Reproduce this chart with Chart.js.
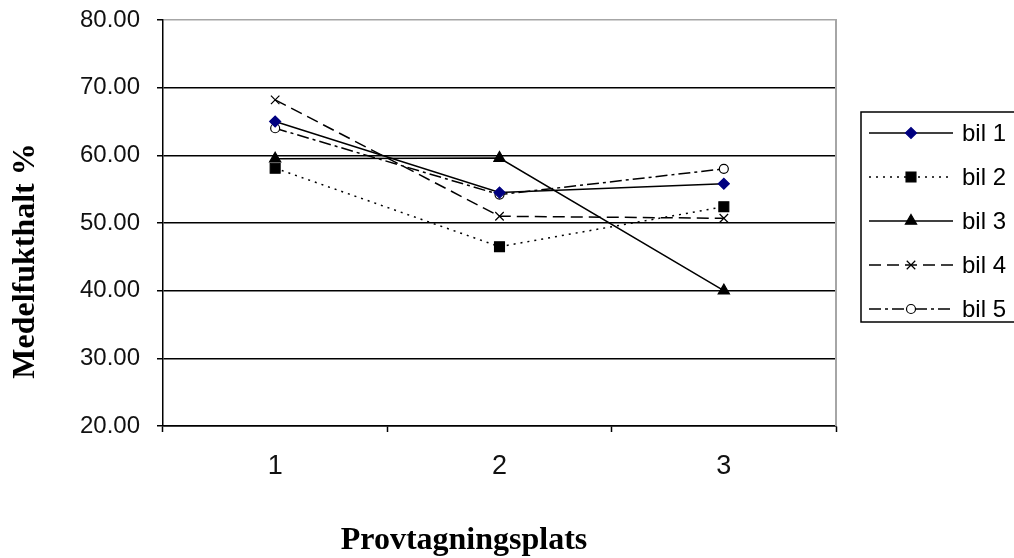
<!DOCTYPE html>
<html>
<head>
<meta charset="utf-8">
<title>Medelfukthalt per provtagningsplats</title>
<script src="https://cdn.jsdelivr.net/npm/chart.js@4/dist/chart.umd.min.js"></script>
<style>
  html, body { margin: 0; padding: 0; background: #fff; }
  #wrap { width: 1014px; height: 558px; position: relative; }
</style>
</head>
<body>
<div id="wrap"><canvas id="c" width="1014" height="558"></canvas></div>
<script>
// Sampling sites (x categories)
const platser = ['1', '2', '3'];

// Mean moisture content (%) per car
const bil1 = [65.0, 54.5, 55.8];
const bil2 = [58.1, 46.5, 52.4];
const bil3 = [59.5, 59.6, 40.0];
const bil4 = [68.2, 51.0, 50.7];
const bil5 = [64.0, 54.2, 58.0];

const seriesNames = ['bil 1', 'bil 2', 'bil 3', 'bil 4', 'bil 5'];

// y axis range / tick step
const yMin = 20, yMax = 80, yStep = 10;

const axisTitleX = 'Provtagningsplats';
const axisTitleY = 'Medelfukthalt %';

const SANS = '"Liberation Sans", Arial, sans-serif';
const SERIF = '"Liberation Serif", "Times New Roman", serif';

function series(label, data, style) {
  return Object.assign({
    label, data,
    borderColor: '#000',
    borderWidth: 1.5,
    fill: false,
    tension: 0,
    pointBorderWidth: 1.2,
    pointHoverRadius: 0
  }, style);
}

const datasets = [
  series(seriesNames[0], bil1, { pointStyle: 'rectRot', pointRadius: 5.5, pointBackgroundColor: '#000080', pointBorderColor: '#000080', borderDash: [] }),
  series(seriesNames[1], bil2, { pointStyle: 'rect', pointRadius: 7, pointBackgroundColor: '#000', pointBorderColor: '#000', borderDash: [2, 5] }),
  series(seriesNames[2], bil3, { pointStyle: 'triangle', pointRadius: 6.5, pointBackgroundColor: '#000', pointBorderColor: '#000', borderDash: [] }),
  series(seriesNames[3], bil4, { pointStyle: 'crossRot', pointRadius: 6, pointBackgroundColor: '#000', pointBorderColor: '#000', borderDash: [12, 6] }),
  series(seriesNames[4], bil5, { pointStyle: 'circle', pointRadius: 4.5, pointBackgroundColor: '#fff', pointBorderColor: '#000', borderDash: [12, 4, 3, 4] })
];

// Gray frame on the right side of the plot area
const frameRight = {
  id: 'frameRight',
  beforeDatasetsDraw(chart) {
    const { ctx, chartArea: a } = chart;
    ctx.save();
    ctx.strokeStyle = '#a6a6a6';
    ctx.lineWidth = 2;
    ctx.beginPath();
    ctx.moveTo(a.right, a.top - 1);
    ctx.lineTo(a.right, a.bottom);
    ctx.stroke();
    ctx.restore();
  }
};

// Axis titles
const axisTitles = {
  id: 'axisTitles',
  afterDraw(chart) {
    const { ctx } = chart;
    ctx.save();
    ctx.fillStyle = '#000';
    ctx.font = 'bold 32px ' + SERIF;
    ctx.textAlign = 'center';
    ctx.textBaseline = 'alphabetic';
    ctx.fillText(axisTitleX, 464, 549);
    ctx.translate(34, 261);
    ctx.rotate(-Math.PI / 2);
    ctx.fillText(axisTitleY, 0, 0);
    ctx.restore();
  }
};

// Boxed legend with line samples and markers
const boxLegend = {
  id: 'boxLegend',
  afterDraw(chart) {
    const { ctx } = chart;
    const L = { left: 861, top: 112, right: 1030, bottom: 322, x0: 869, x1: 953, textX: 962, y0: 133, step: 44 };
    ctx.save();
    ctx.strokeStyle = '#000';
    ctx.lineWidth = 1.5;
    ctx.strokeRect(L.left, L.top, L.right - L.left, L.bottom - L.top);
    chart.data.datasets.forEach((ds, i) => {
      const y = L.y0 + i * L.step;
      ctx.save();
      ctx.strokeStyle = ds.borderColor;
      ctx.lineWidth = ds.borderWidth;
      ctx.setLineDash(ds.borderDash || []);
      ctx.beginPath();
      ctx.moveTo(L.x0, y);
      ctx.lineTo(L.x1, y);
      ctx.stroke();
      ctx.restore();
      ctx.save();
      ctx.fillStyle = ds.pointBackgroundColor;
      ctx.strokeStyle = ds.pointBorderColor;
      ctx.lineWidth = ds.pointBorderWidth;
      Chart.helpers.drawPoint(ctx, { pointStyle: ds.pointStyle, radius: ds.pointRadius, rotation: 0, borderWidth: ds.pointBorderWidth }, (L.x0 + L.x1) / 2, y);
      ctx.restore();
      ctx.fillStyle = '#000';
      ctx.font = '24px ' + SANS;
      ctx.textAlign = 'left';
      ctx.textBaseline = 'middle';
      ctx.fillText(ds.label, L.textX, y + 1);
    });
    ctx.restore();
  }
};

new Chart(document.getElementById('c'), {
  type: 'line',
  data: { labels: platser, datasets },
  options: {
    responsive: false,
    animation: false,
    events: [],
    layout: { padding: { top: 20, right: 178, bottom: 0, left: 0 } },
    plugins: {
      legend: { display: false },
      tooltip: { enabled: false },
      title: { display: false }
    },
    scales: {
      x: {
        type: 'category',
        offset: true,
        afterFit(s) { s.height = 132; s.paddingLeft = 0; s.paddingRight = 0; },
        grid: {
          offset: true,
          drawOnChartArea: false,
          drawTicks: true,
          tickLength: 6,
          tickWidth: 1.5,
          tickColor: '#000'
        },
        border: { display: true, color: '#000', width: 1.5 },
        ticks: {
          color: '#111',
          padding: 18,
          maxRotation: 0,
          font: { family: SANS, size: 27 }
        }
      },
      y: {
        min: yMin,
        max: yMax,
        afterFit(s) { s.width = 163; s.paddingTop = 0; s.paddingBottom = 0; },
        grid: {
          color: (c) => (c.tick && c.tick.value === yMax ? '#a6a6a6' : '#000'),
          lineWidth: 1.5,
          drawTicks: true,
          tickLength: 6,
          tickWidth: 1.5,
          tickColor: '#000'
        },
        border: { display: true, color: '#000', width: 1.5 },
        ticks: {
          stepSize: yStep,
          color: '#111',
          padding: 17,
          font: { family: SANS, size: 24 },
          callback: (v) => Number(v).toFixed(2)
        }
      }
    }
  },
  plugins: [frameRight, axisTitles, boxLegend]
});
</script>
</body>
</html>
